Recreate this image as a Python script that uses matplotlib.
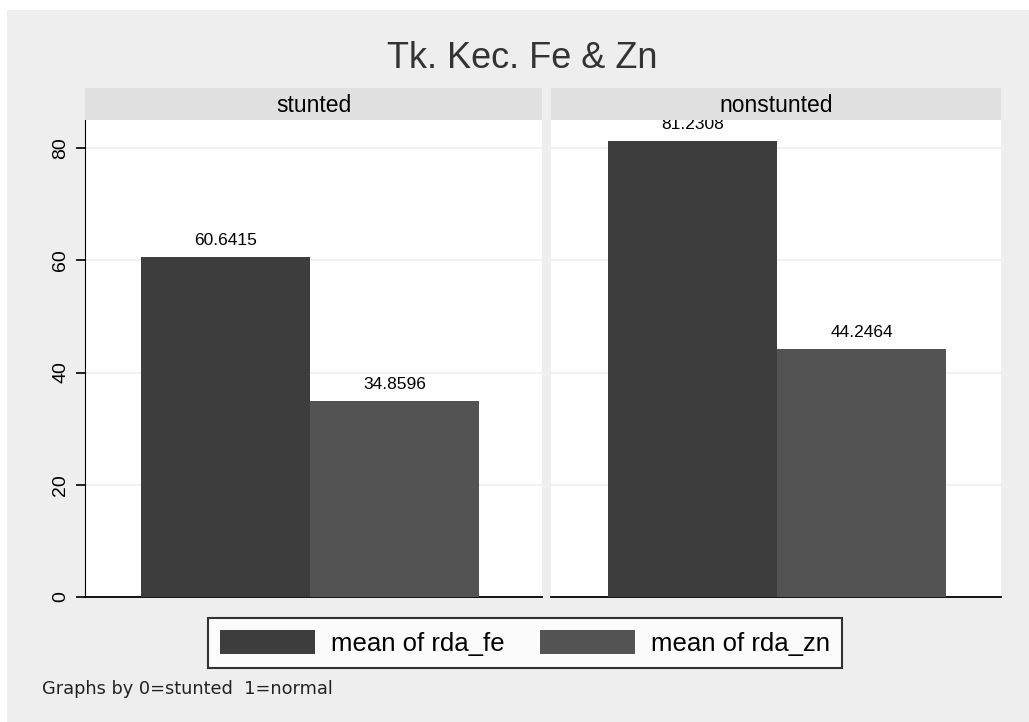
import numpy as np
import matplotlib.pyplot as plt
from matplotlib.patches import Rectangle, Patch

plt.rcParams['font.family'] = ['Liberation Sans', 'DejaVu Sans']

# data
groups = ["stunted", "nonstunted"]
series = ["mean of rda_fe", "mean of rda_zn"]
rda_fe = [60.6415, 81.2308]
rda_zn = [34.8596, 44.2464]
value_labels_fe = ["60.6415", "81.2308"]
value_labels_zn = ["34.8596", "44.2464"]
yticks = [0, 20, 40, 60, 80]

colors = ["#3d3d3d", "#535353"]
bg = "#eeeeee"

W, H = 1029, 722
fig = plt.figure(figsize=(W / 100, H / 100), dpi=100)
fig.patch.set_facecolor("white")
fig.patches.append(Rectangle((7 / W, 0), 1, 1 - 10 / H, transform=fig.transFigure,
                             facecolor=bg, edgecolor="none", zorder=-10))

def px_box(x0, y0, x1, y1):
    return [x0 / W, 1 - y1 / H, (x1 - x0) / W, (y1 - y0) / H]

# panel pixel extents and bar margins (left, right) in bar widths
panels = [(85, 542), (551, 1001)]
margins = [(56 / 170, 63 / 170), (57 / 169, 55 / 169)]
y_top, y_bot, strip_top = 120, 597, 88

for i, (x0, x1) in enumerate(panels):
    ax = fig.add_axes(px_box(x0, y_top, x1, y_bot))
    ax.set_facecolor("white")
    vals = [rda_fe[i], rda_zn[i]]
    labs = [value_labels_fe[i], value_labels_zn[i]]
    for j in range(2):
        ax.bar(j, vals[j], width=1.0, color=colors[j], edgecolor="none", zorder=3)
        ax.text(j, vals[j] + 1.6, labs[j], ha="center", va="bottom", fontsize=12.5, zorder=4)
    ax.set_xlim(-0.5 - margins[i][0], 1.5 + margins[i][1])
    ax.set_ylim(0, 85)
    ax.set_yticks(yticks)
    ax.grid(axis="y", color="#efefef", linewidth=1.2, zorder=0)
    ax.set_xticks([])
    for s in ["top", "right"]:
        ax.spines[s].set_visible(False)
    ax.spines["bottom"].set_color("black")
    ax.spines["bottom"].set_linewidth(1.3)
    if i == 0:
        ax.set_yticklabels([str(t) for t in yticks], rotation=90, va="center", fontsize=14)
        ax.tick_params(axis="y", length=6.5, width=1.2, pad=5)
    else:
        ax.spines["left"].set_visible(False)
        ax.tick_params(axis="y", length=0, labelleft=False)

    sax = fig.add_axes(px_box(x0, strip_top, x1, y_top))
    sax.set_facecolor("#e0e0e0")
    sax.set_xticks([])
    sax.set_yticks([])
    for s in sax.spines.values():
        s.set_visible(False)
    sax.text(0.5, 0.45, groups[i], ha="center", va="center", fontsize=16.5, transform=sax.transAxes)

fig.text(522 / W, 1 - 58 / H, "Tk. Kec. Fe & Zn", ha="center", va="center", fontsize=26, color="#333333")

handles = [Patch(facecolor=colors[k], edgecolor="none") for k in range(2)]
leg = fig.legend(handles, series, loc="center", bbox_to_anchor=(525 / W, 1 - 643 / H),
                 ncol=2, fontsize=18.5, frameon=True, fancybox=False,
                 handlelength=3.7, handleheight=1.05, handletextpad=0.6, columnspacing=1.4,
                 borderpad=0.48)
leg.get_frame().set_edgecolor("black")
leg.get_frame().set_linewidth(1.5)
leg.get_frame().set_facecolor("white")

fig.text(42 / W, 1 - 689 / H, "Graphs by 0=stunted  1=normal", ha="left", va="center",
         fontsize=12.8, family="DejaVu Sans", color="#222222")

fig.savefig("out.png", dpi=100, facecolor=fig.get_facecolor())
